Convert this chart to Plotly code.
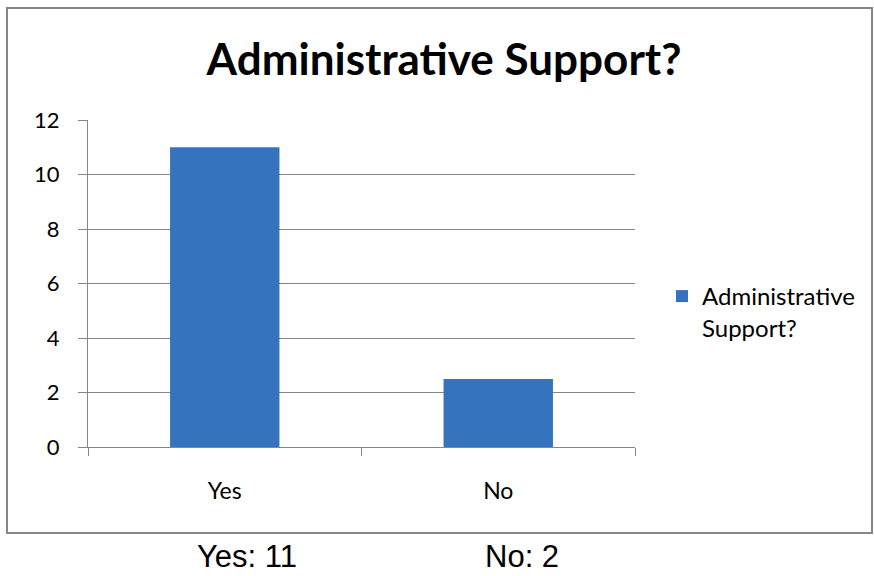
import plotly.graph_objects as go

categories = ["Yes", "No"]
values = [11, 2.5]
series_name = "Administrative<br>Support?"
title_text = "Administrative Support?"
summary_labels = ["Yes: 11", "No: 2"]
y_ticks = [0, 2, 4, 6, 8, 10, 12]

W, H = 874, 576
L, R, T, B = 88, 635, 120, 447  # plot area in pixels

fig = go.Figure()
fig.add_trace(go.Bar(
    x=categories, y=values, name=series_name, width=0.4,
    marker=dict(color="#3673be", line=dict(width=0)),
    showlegend=True,
))

def px_x(p):
    return (p - L) / (R - L)

def px_y(p):
    return (B - p) / (B - T)

# outer chart border
fig.add_shape(type="rect", xref="paper", yref="paper",
              x0=px_x(7), x1=px_x(872), y0=px_y(533), y1=px_y(8),
              line=dict(color="#868686", width=2), fillcolor="rgba(0,0,0,0)", layer="below")

# summary texts under the chart
for lab, xc in zip(summary_labels, [247, 522]):
    fig.add_annotation(text=lab, xref="paper", yref="paper", x=px_x(xc), y=px_y(556),
                       showarrow=False, xanchor="center", yanchor="middle",
                       font=dict(family="Liberation Sans, Arial", size=31, color="#000"))

fig.update_layout(
    width=W, height=H,
    margin=dict(l=L, r=W - R, t=T, b=H - B, pad=0),
    paper_bgcolor="white", plot_bgcolor="white",
    title=dict(text="<b>" + title_text + "</b>", x=444 / W, xanchor="center",
               y=1 - 60 / H, yanchor="middle",
               font=dict(family="Lato, Calibri, sans-serif", size=44, color="#000")),
    font=dict(family="Lato, Calibri, sans-serif", color="#000"),
    legend=dict(x=px_x(662), y=px_y(274), xanchor="left", yanchor="top",
                font=dict(size=24, color="#000"), bgcolor="rgba(0,0,0,0)",
                valign="top", tracegroupgap=0),
    bargap=0.6,
)
fig.update_yaxes(range=[0, 12], tickvals=y_ticks, showgrid=True, gridcolor="#868686", gridwidth=1,
                 showline=True, linecolor="#868686", linewidth=1,
                 ticks="outside", ticklen=9, tickcolor="#868686",
                 tickfont=dict(size=22), ticklabelstandoff=14, zeroline=False, fixedrange=True)
fig.update_xaxes(showline=True, linecolor="#868686", linewidth=1,
                 ticks="outside", ticklen=8, tickcolor="#868686", tickson="boundaries",
                 tickfont=dict(size=23), ticklabelstandoff=23, fixedrange=True)

fig.write_html("out.html")
